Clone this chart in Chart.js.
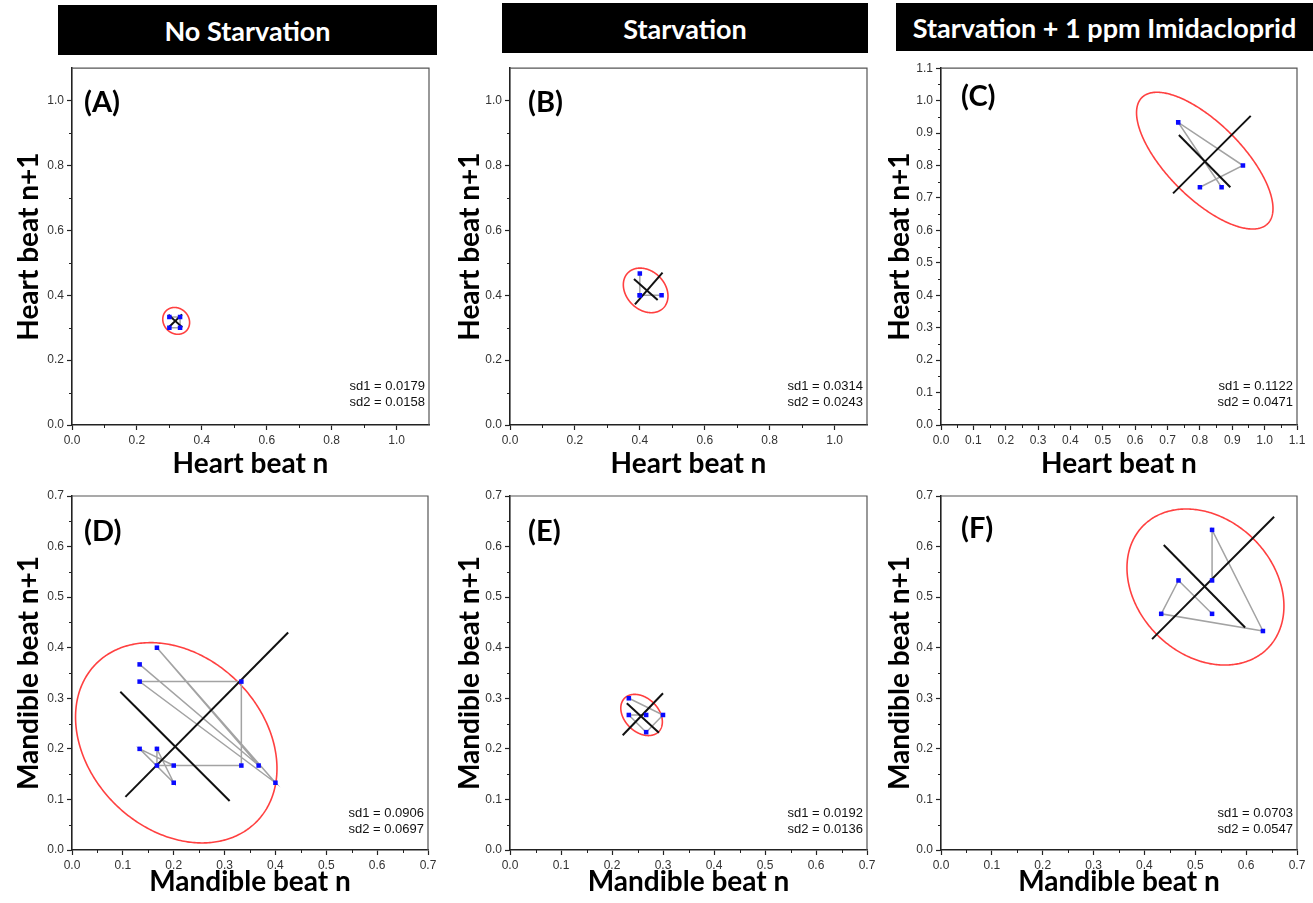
<!DOCTYPE html>
<html><head><meta charset="utf-8">
<script src="https://cdn.jsdelivr.net/npm/chart.js@4.4.1/dist/chart.umd.min.js"></script>
<style>
html,body{margin:0;padding:0;background:#fff}
body{width:1313px;height:903px;position:relative;overflow:hidden;font-family:'Liberation Sans',Arial,sans-serif}
canvas{position:absolute}
.bar{position:absolute;background:#000;color:#fff;font-family:Lato,'Open Sans',sans-serif;font-weight:700;font-size:27px;display:flex;align-items:center;justify-content:center;white-space:nowrap;overflow:hidden}
.lbl{position:absolute;font-family:Lato,'Open Sans',sans-serif;font-weight:700;font-size:29px;line-height:30px;color:#000}
.sd{position:absolute;font-family:'Liberation Sans',Arial,sans-serif;font-size:13px;line-height:16px;text-align:right;color:#111}
</style></head>
<body>
<div class="bar" style="left:58px;top:5px;width:379px;height:50px">No Starvation</div>
<div class="bar" style="left:502px;top:3px;width:366px;height:50px">Starvation</div>
<div class="bar" style="left:896px;top:3px;width:417px;height:48px">Starvation + 1 ppm Imidacloprid</div>

<canvas id="cA" width="447" height="422" style="left:0px;top:58px"></canvas>
<canvas id="cB" width="433" height="422" style="left:447px;top:58px"></canvas>
<canvas id="cC" width="433" height="422" style="left:880px;top:58px"></canvas>
<canvas id="cD" width="447" height="418" style="left:0px;top:485px"></canvas>
<canvas id="cE" width="433" height="418" style="left:447px;top:485px"></canvas>
<canvas id="cF" width="433" height="418" style="left:880px;top:485px"></canvas>

<div class="lbl" style="left:84px;top:86px">(A)</div>
<div class="lbl" style="left:528px;top:86px">(B)</div>
<div class="lbl" style="left:961px;top:80px">(C)</div>
<div class="lbl" style="left:84px;top:515px">(D)</div>
<div class="lbl" style="left:528px;top:515px">(E)</div>
<div class="lbl" style="left:961px;top:512px">(F)</div>

<div class="sd" style="right:888px;top:378px">sd1 = 0.0179<br>sd2 = 0.0158</div>
<div class="sd" style="right:450px;top:378px">sd1 = 0.0314<br>sd2 = 0.0243</div>
<div class="sd" style="right:20px;top:378px">sd1 = 0.1122<br>sd2 = 0.0471</div>
<div class="sd" style="right:889px;top:805px">sd1 = 0.0906<br>sd2 = 0.0697</div>
<div class="sd" style="right:450px;top:805px">sd1 = 0.0192<br>sd2 = 0.0136</div>
<div class="sd" style="right:20px;top:805px">sd1 = 0.0703<br>sd2 = 0.0547</div>

<script>
// ---------- DATA ----------
// Poincaré points: x = beat interval n, y = beat interval n+1 (in plotting order)
const heartA_xn  = [0.300, 0.333, 0.333, 0.300];
const heartA_xn1 = [0.333, 0.333, 0.300, 0.300];
const heartB_xn  = [0.467, 0.400, 0.400, 0.400];
const heartB_xn1 = [0.400, 0.400, 0.467, 0.400];
const heartC_xn  = [0.867, 0.733, 0.933, 0.800];
const heartC_xn1 = [0.733, 0.933, 0.800, 0.733];
const mandD_xn   = [0.133, 0.367, 0.167, 0.400, 0.133, 0.333, 0.333, 0.167, 0.167, 0.200, 0.133, 0.200];
const mandD_xn1  = [0.367, 0.167, 0.400, 0.133, 0.333, 0.333, 0.167, 0.167, 0.200, 0.133, 0.200, 0.167];
const mandE_xn   = [0.233, 0.300, 0.267, 0.233, 0.267];
const mandE_xn1  = [0.300, 0.267, 0.233, 0.267, 0.267];
const mandF_xn   = [0.533, 0.533, 0.633, 0.433, 0.467, 0.533];
const mandF_xn1  = [0.533, 0.633, 0.433, 0.467, 0.533, 0.467];

// SD2 axis (along identity line) and SD1 axis (perpendicular) end points
const lineA_sd2_x = [0.299, 0.339], lineA_sd2_y = [0.302, 0.341];
const lineA_sd1_x = [0.297, 0.340], lineA_sd1_y = [0.340, 0.301];
const lineB_sd2_x = [0.385, 0.470], lineB_sd2_y = [0.372, 0.470];
const lineB_sd1_x = [0.382, 0.455], lineB_sd1_y = [0.450, 0.385];
const lineC_sd2_x = [0.717, 0.957], lineC_sd2_y = [0.714, 0.953];
const lineC_sd1_x = [0.735, 0.894], lineC_sd1_y = [0.894, 0.733];
const lineD_sd2_x = [0.105, 0.425], lineD_sd2_y = [0.105, 0.430];
const lineD_sd1_x = [0.095, 0.310], lineD_sd1_y = [0.313, 0.097];
const lineE_sd2_x = [0.221, 0.300], lineE_sd2_y = [0.227, 0.310];
const lineE_sd1_x = [0.229, 0.292], lineE_sd1_y = [0.290, 0.232];
const lineF_sd2_x = [0.415, 0.655], lineF_sd2_y = [0.417, 0.659];
const lineF_sd1_x = [0.438, 0.598], lineF_sd1_y = [0.603, 0.440];

// Ellipse centres and SD values
const centreX = [0.321, 0.418, 0.815, 0.205, 0.258, 0.520];
const centreY = [0.321, 0.415, 0.815, 0.212, 0.267, 0.520];
const sd1 = [0.0179, 0.0314, 0.1122, 0.0906, 0.0192, 0.0703];
const sd2 = [0.0158, 0.0243, 0.0471, 0.0697, 0.0136, 0.0547];

// Tick values
const heartMajorAB = [0, 0.2, 0.4, 0.6, 0.8, 1.0];
const heartMinorAB = [0.1, 0.3, 0.5, 0.7, 0.9];
const heartMajorC  = [0, 0.1, 0.2, 0.3, 0.4, 0.5, 0.6, 0.7, 0.8, 0.9, 1.0, 1.1];
const heartMinorC  = [0.05, 0.15, 0.25, 0.35, 0.45, 0.55, 0.65, 0.75, 0.85, 0.95, 1.05];
const mandMajor    = [0, 0.1, 0.2, 0.3, 0.4, 0.5, 0.6, 0.7];
const mandMinor    = [0.05, 0.15, 0.25, 0.35, 0.45, 0.55, 0.65];

// ---------- DRAWING ----------
const ELLIPSE_K = 2.45; // ellipse semi-axes = K * SD

const ellipsePlugin = {
  id: 'poincareEllipse',
  beforeDatasetsDraw(chart, args, o) {
    const {ctx, chartArea: a, scales: {x, y}} = chart;
    const A = ELLIPSE_K * o.sd2, B = ELLIPSE_K * o.sd1, r = Math.SQRT1_2;
    ctx.save();
    ctx.beginPath(); ctx.rect(a.left, a.top, a.right - a.left, a.bottom - a.top); ctx.clip();
    ctx.beginPath();
    for (let i = 0; i <= 360; i++) {
      const t = i * Math.PI / 180;
      const u = A * Math.cos(t), v = B * Math.sin(t);
      const dx = (u - v) * r, dy = (u + v) * r;
      const px = x.getPixelForValue(o.cx + dx), py = y.getPixelForValue(o.cy + dy);
      if (i === 0) ctx.moveTo(px, py); else ctx.lineTo(px, py);
    }
    ctx.strokeStyle = '#ff4040'; ctx.lineWidth = 1.6; ctx.stroke();
    ctx.restore();
  }
};

const framePlugin = {
  id: 'frame',
  afterDraw(chart, args, o) {
    const {ctx, chartArea: a, scales: {x, y}} = chart;
    ctx.save();
    ctx.strokeStyle = '#555'; ctx.lineWidth = 1.2;
    ctx.beginPath(); ctx.moveTo(a.left, a.top); ctx.lineTo(a.right, a.top); ctx.lineTo(a.right, a.bottom); ctx.stroke();
    ctx.strokeStyle = '#222'; ctx.lineWidth = 1;
    ctx.beginPath();
    o.xMinor.forEach(v => { const p = Math.round(x.getPixelForValue(v)) + 0.5; ctx.moveTo(p, a.bottom); ctx.lineTo(p, a.bottom + 3); });
    o.yMinor.forEach(v => { const p = Math.round(y.getPixelForValue(v)) + 0.5; ctx.moveTo(a.left, p); ctx.lineTo(a.left - 3, p); });
    ctx.stroke();
    ctx.restore();
  }
};

function pts(xs, ys) { return xs.map((v, i) => ({x: v, y: ys[i]})); }

function makePanel(id, g, d) {
  const el = document.getElementById(id);
  const cl = parseFloat(el.style.left), ct = parseFloat(el.style.top);
  const cw = el.width, ch = el.height;
  const titleFont = {family: 'Lato', weight: '700', size: 28};
  const lh = titleFont.size * 1.2;
  const tickFont = {family: 'Liberation Sans', size: 12};
  const scale = (min, max, major, title, axis) => ({
    type: 'linear', min, max,
    afterBuildTicks: s => { s.ticks = major.map(v => ({value: v})); },
    ticks: {autoSkip: false, maxRotation: 0, padding: 3, color: '#333', font: tickFont,
            callback: v => Number(v).toFixed(1)},
    grid: {drawOnChartArea: false, drawTicks: true, tickLength: 5, tickColor: '#222', tickWidth: 1.2},
    border: {display: true, color: '#222', width: 1.6},
    title: {display: true, text: title, color: '#000', font: titleFont,
            padding: axis === 'x' ? {top: 0, bottom: (ct + ch) - g.xTitleY - lh / 2}
                                  : {top: g.yTitleX - cl - lh / 2, bottom: 0}},
    afterFit: s => { if (axis === 'x') s.height = (ct + ch) - g.py1; else s.width = g.px0 - cl; }
  });
  new Chart(el, {
    type: 'scatter',
    data: {datasets: [
      {data: pts(d.xn, d.xn1), showLine: false, pointStyle: 'rect', pointRadius: 3.2,
       pointBackgroundColor: '#0a0aff', pointBorderWidth: 0, order: 0},
      {data: pts(d.l2x, d.l2y), showLine: true, pointRadius: 0, borderColor: '#111', borderWidth: 2, order: 1},
      {data: pts(d.l1x, d.l1y), showLine: true, pointRadius: 0, borderColor: '#111', borderWidth: 2, order: 1},
      {data: pts(d.xn, d.xn1), showLine: true, pointRadius: 0, borderColor: '#a3a3a3', borderWidth: 1.5, order: 2}
    ]},
    options: {
      responsive: false, animation: false, devicePixelRatio: 1,
      layout: {padding: {left: 0, top: g.py0 - ct, right: (cl + cw) - g.px1, bottom: 0}},
      scales: {
        x: scale(0, d.max, d.xMajor, d.xTitle, 'x'),
        y: scale(0, d.max, d.yMajor, d.yTitle, 'y')
      },
      plugins: {
        legend: {display: false}, tooltip: {enabled: false},
        poincareEllipse: {cx: d.cx, cy: d.cy, sd1: d.sd1, sd2: d.sd2},
        frame: {xMinor: d.xMinor, yMinor: d.yMinor}
      }
    },
    plugins: [ellipsePlugin, framePlugin]
  });
}

const rowTop = {py0: 68, py1: 425, xTitleY: 463.5};
const rowBot = {py0: 496, py1: 850, xTitleY: 881.5};
const H = 'Heart beat n', H1 = 'Heart beat n+1', M = 'Mandible beat n', M1 = 'Mandible beat n+1';

makePanel('cA', {...rowTop, px0: 72, px1: 429, yTitleX: 29},
  {xn: heartA_xn, xn1: heartA_xn1, l2x: lineA_sd2_x, l2y: lineA_sd2_y, l1x: lineA_sd1_x, l1y: lineA_sd1_y,
   cx: centreX[0], cy: centreY[0], sd1: sd1[0], sd2: sd2[0], max: 1.1,
   xMajor: heartMajorAB, yMajor: heartMajorAB, xMinor: heartMinorAB, yMinor: heartMinorAB, xTitle: H, yTitle: H1});
makePanel('cB', {...rowTop, px0: 510, px1: 867, yTitleX: 470},
  {xn: heartB_xn, xn1: heartB_xn1, l2x: lineB_sd2_x, l2y: lineB_sd2_y, l1x: lineB_sd1_x, l1y: lineB_sd1_y,
   cx: centreX[1], cy: centreY[1], sd1: sd1[1], sd2: sd2[1], max: 1.1,
   xMajor: heartMajorAB, yMajor: heartMajorAB, xMinor: heartMinorAB, yMinor: heartMinorAB, xTitle: H, yTitle: H1});
makePanel('cC', {...rowTop, px0: 941, px1: 1297, yTitleX: 900},
  {xn: heartC_xn, xn1: heartC_xn1, l2x: lineC_sd2_x, l2y: lineC_sd2_y, l1x: lineC_sd1_x, l1y: lineC_sd1_y,
   cx: centreX[2], cy: centreY[2], sd1: sd1[2], sd2: sd2[2], max: 1.1,
   xMajor: heartMajorC, yMajor: heartMajorC, xMinor: heartMinorC, yMinor: heartMinorC, xTitle: H, yTitle: H1});
makePanel('cD', {...rowBot, px0: 72, px1: 428, yTitleX: 29},
  {xn: mandD_xn, xn1: mandD_xn1, l2x: lineD_sd2_x, l2y: lineD_sd2_y, l1x: lineD_sd1_x, l1y: lineD_sd1_y,
   cx: centreX[3], cy: centreY[3], sd1: sd1[3], sd2: sd2[3], max: 0.7,
   xMajor: mandMajor, yMajor: mandMajor, xMinor: mandMinor, yMinor: mandMinor, xTitle: M, yTitle: M1});
makePanel('cE', {...rowBot, px0: 510, px1: 867, yTitleX: 470},
  {xn: mandE_xn, xn1: mandE_xn1, l2x: lineE_sd2_x, l2y: lineE_sd2_y, l1x: lineE_sd1_x, l1y: lineE_sd1_y,
   cx: centreX[4], cy: centreY[4], sd1: sd1[4], sd2: sd2[4], max: 0.7,
   xMajor: mandMajor, yMajor: mandMajor, xMinor: mandMinor, yMinor: mandMinor, xTitle: M, yTitle: M1});
makePanel('cF', {...rowBot, px0: 941, px1: 1297, yTitleX: 900},
  {xn: mandF_xn, xn1: mandF_xn1, l2x: lineF_sd2_x, l2y: lineF_sd2_y, l1x: lineF_sd1_x, l1y: lineF_sd1_y,
   cx: centreX[5], cy: centreY[5], sd1: sd1[5], sd2: sd2[5], max: 0.7,
   xMajor: mandMajor, yMajor: mandMajor, xMinor: mandMinor, yMinor: mandMinor, xTitle: M, yTitle: M1});
</script>
</body></html>
